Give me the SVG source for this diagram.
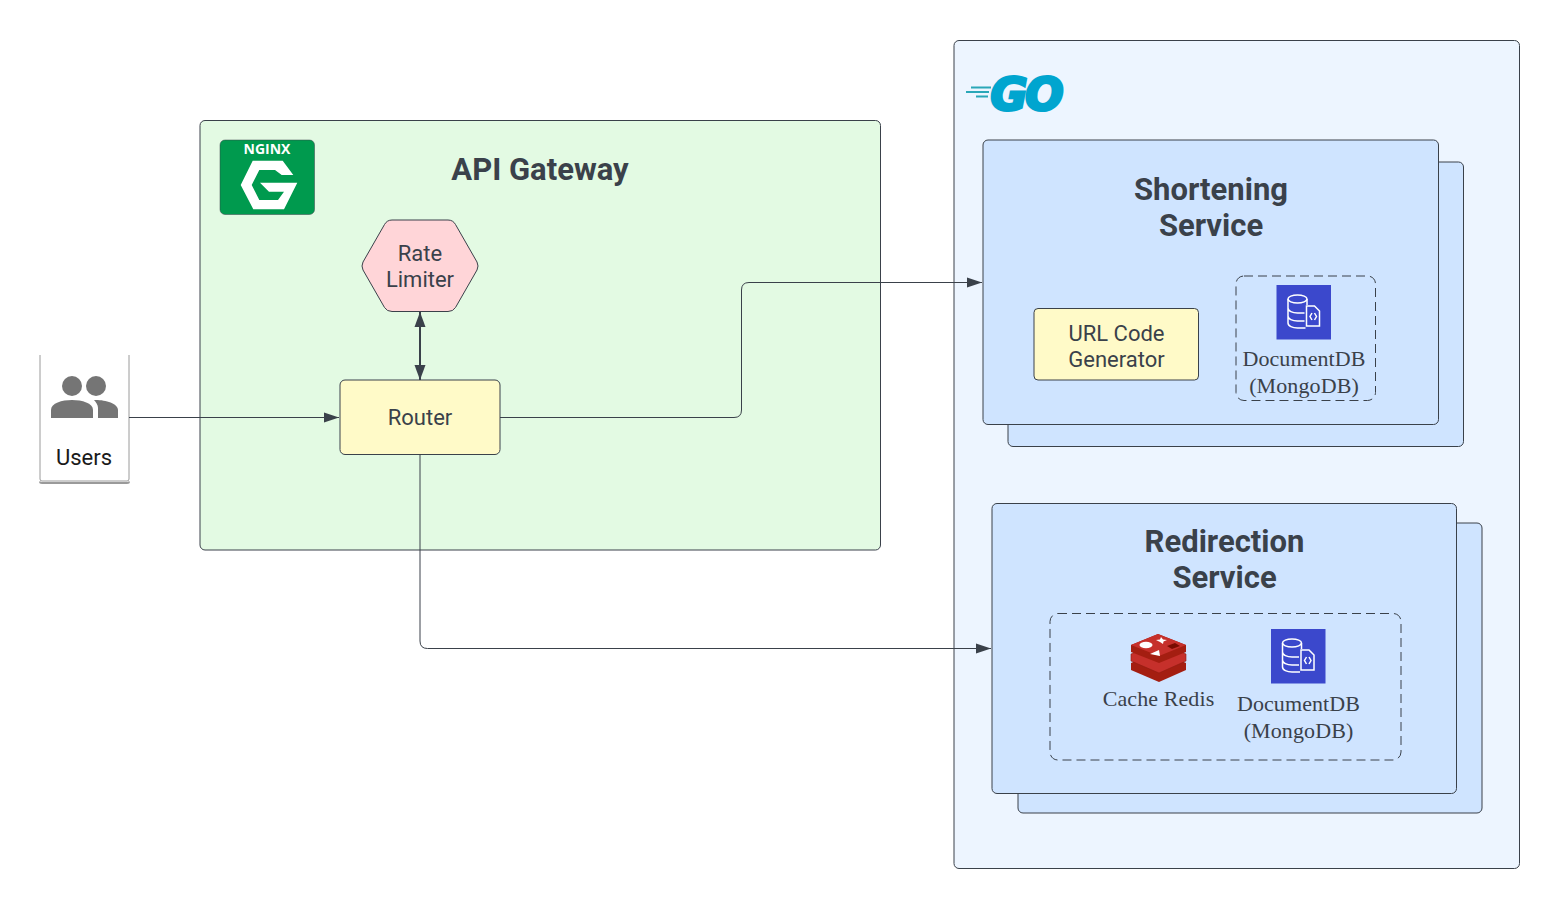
<svg xmlns="http://www.w3.org/2000/svg" width="1560" height="909" viewBox="0 0 1560 909">
<style>
text{font-family:Roboto,"Liberation Sans",sans-serif;fill:#3a414a;text-anchor:middle}
.t{font-size:31px;font-weight:700}
.n{font-size:22px}
.s{font-family:"Liberation Serif",serif;font-size:22px;letter-spacing:0.100px}
.b{stroke:#3a414a;stroke-width:1}
.blue{fill:#cfe4ff}
.dash{fill:none;stroke:#3a414a;stroke-width:1;stroke-dasharray:9 5}
.c{fill:none;stroke:#3a414a;stroke-width:1}
.w{fill:none;stroke:#fff;stroke-width:1.500}
</style>
<defs>
<marker id="a" markerUnits="userSpaceOnUse" markerWidth="16" markerHeight="12" refX="15" refY="6" orient="auto"><path d="M0 1 L15 6 L0 11Z" fill="#3a414a"/></marker>
<marker id="a2" markerUnits="userSpaceOnUse" markerWidth="16" markerHeight="12" refX="15" refY="6" orient="auto-start-reverse"><path d="M0 0.500 L15 6 L0 11.500Z" fill="#3a414a"/></marker>
<g id="docdb">
<rect width="54.500" height="54.500" fill="#3b48cc"/>
<ellipse cx="21" cy="14" rx="9.500" ry="4" class="w"/>
<path d="M11.500 14V38C11.500 41 16 43 21 43H29M11.500 23C11.500 26 16 28 21 28H28M11.500 31C11.500 34 16 36 21 36H28M30.500 14V20" class="w"/>
<path d="M30 21H38L43 26V41H30Z" fill="#3b48cc" stroke="#fff" stroke-width="1.500"/>
<path d="M35.500 28L33.500 31.500L35.500 35M38 28L40 31.500L38 35" class="w"/>
</g>
</defs>

<g id="go-panel">
<rect x="954" y="40.500" width="565.500" height="828" rx="5" fill="#edf5ff" class="b"/>
<text x="1026" y="110" style="font-family:'DejaVu Sans',sans-serif;font-size:45px;font-weight:700;font-style:italic;fill:#00a5cf;stroke:#00a5cf;stroke-width:3;letter-spacing:-2px">GO</text>
<path d="M971 87.500H991M966 92H989M976 96.500H988" stroke="#2aa7b8" stroke-width="1.800" fill="none"/>
</g>

<g id="api-gateway">
<rect x="200" y="120.500" width="680.500" height="429.500" rx="5" fill="#e3fae3" class="b"/>
<rect x="220" y="140" width="94.500" height="74.500" rx="5" fill="#009a4e" stroke="#3a414a" stroke-width="0.500"/>
<text x="267" y="154" style="font-size:14px;font-weight:700;fill:#fff;font-family:'Open Sans',sans-serif">NGINX</text>
<path d="M252.700 160.700H282.700L293.300 175H281.700L275 170H259.300L251.700 185L259.300 200H278L284 191.700H269L260 182.700H297.300L284 209.300H253.300L240.700 185Z" fill="#fff"/>
<text class="t" x="540" y="180">API Gateway</text>
</g>

<g id="shortening-service">
<rect x="1008" y="162" width="455.500" height="284.500" rx="5" class="blue b"/>
<rect x="983" y="140" width="455.500" height="284.500" rx="5" class="blue b"/>
<text class="t" x="1211" y="200">Shortening</text>
<text class="t" x="1211" y="236">Service</text>
</g>

<g id="url-code-generator">
<rect x="1034" y="308.500" width="164.500" height="71.500" rx="4" fill="#fffac8" class="b"/>
<text class="n" x="1116.500" y="341">URL Code</text>
<text class="n" x="1116.500" y="367">Generator</text>
</g>

<g id="documentdb-shortening">
<rect x="1236" y="276" width="139.500" height="124.500" rx="8" class="dash"/>
<use href="#docdb" x="1276.500" y="285"/>
<text class="s" x="1304" y="366">DocumentDB</text>
<text class="s" x="1304" y="393">(MongoDB)</text>
</g>

<g id="redirection-service">
<rect x="1018" y="523" width="464" height="290" rx="5" class="blue b"/>
<rect x="992" y="503.500" width="464.500" height="290" rx="5" class="blue b"/>
<text class="t" x="1224.500" y="552">Redirection</text>
<text class="t" x="1224.500" y="588">Service</text>
<rect x="1050" y="613.500" width="351" height="146.500" rx="8" class="dash"/>
</g>

<g id="cache-redis">
<path d="M1131 663L1158 651L1186 663V670L1159 682L1131 670Z" fill="#a41e11"/>
<path d="M1131 654L1158 642L1186 654V661L1159 673L1131 661Z" fill="#c6302b" stroke="#8f1b10" stroke-width="0.600"/>
<path d="M1131 645L1158 634L1186 645V652L1159 663L1131 652Z" fill="#a41e11"/>
<path d="M1131 645L1158 634L1186 645L1159 656Z" fill="#c6302b"/>
<ellipse cx="1146" cy="645" rx="6.500" ry="3.200" fill="#fff"/>
<path d="M1156 640L1160 639.500L1161 637L1163 639.500L1167 640L1163.500 641.500L1163 644L1160 642Z" fill="#fff"/>
<path d="M1150 654L1159 650L1160 656Z" fill="#fff"/>
<path d="M1167 646L1175 643L1180 646L1172 649Z" fill="#7a0c00"/>
<text class="s" x="1158.500" y="706">Cache Redis</text>
</g>

<g id="documentdb-redirection">
<use href="#docdb" x="1271" y="629"/>
<text class="s" x="1298.500" y="711">DocumentDB</text>
<text class="s" x="1298.500" y="738">(MongoDB)</text>
</g>

<g id="users">
<path d="M40 355V479Q40 481 42 481H127Q129 481 129 479V355" fill="#fff" stroke="#9a9a9a" stroke-width="1"/>
<path d="M40 481.500Q40 483 42 483H127Q129 483 129 481.500" fill="none" stroke="#9a9a9a" stroke-width="2"/>
<g fill="#757575">
<circle cx="72" cy="386" r="10"/>
<circle cx="96" cy="386" r="10"/>
<path d="M51 418V410C51 403 62 400 72 400C82 400 93 403 93 410V418Z"/>
<path d="M98 418V408C98 405 96 402 94 400C104 399.500 118 403 118 410V418Z"/>
</g>
<text x="84" y="465" style="font-size:22px;fill:#1a1a1a">Users</text>
</g>

<g id="rate-limiter">
<path d="M392 220H448Q453 220 455.500 224.500L477 262Q479 266 477 270L455.500 307.500Q453 311.500 448 311.500H392Q387 311.500 384.500 307.500L363 270Q361 266 363 262L384.500 224.500Q387 220 392 220Z" fill="#ffd5d8" class="b"/>
<text class="n" x="420" y="261">Rate</text>
<text class="n" x="420" y="287">Limiter</text>
</g>

<g id="router">
<rect x="340" y="380" width="160" height="74.500" rx="5" fill="#fffac8" class="b"/>
<text class="n" x="420" y="425">Router</text>
</g>

<g id="connectors">
<path class="c" marker-end="url(#a)" d="M129 417.500H339"/>
<path class="c" marker-end="url(#a)" d="M500 417.500H734Q741.500 417.500 741.500 410V290Q741.500 282.500 749 282.500H982"/>
<path class="c" marker-end="url(#a)" d="M420 454.500V641Q420 648.500 427.500 648.500H991"/>
<path fill="none" stroke="#3a414a" stroke-width="2" marker-start="url(#a2)" marker-end="url(#a2)" d="M420 312V380"/>
</g>
</svg>
